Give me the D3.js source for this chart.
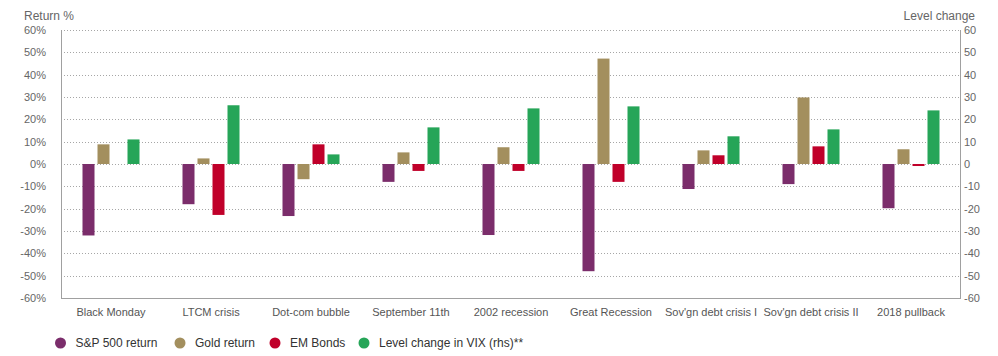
<!DOCTYPE html>
<html>
<head>
<meta charset="utf-8">
<script src="https://cdn.jsdelivr.net/npm/d3@7"></script>
<style>
  html, body { margin: 0; padding: 0; background: #fff; }
  svg { display: block; font-family: "Liberation Sans", Arial, sans-serif; }
</style>
</head>
<body>
<svg id="chart" width="998" height="356"></svg>
<script>
const categories = ["Black Monday", "LTCM crisis", "Dot-com bubble", "September 11th", "2002 recession", "Great Recession", "Sov'gn debt crisis I", "Sov'gn debt crisis II", "2018 pullback"];
const seriesNames = ["S&P 500 return", "Gold return", "EM Bonds", "Level change in VIX (rhs)**"];
const sp500 = [-32, -18, -23.3, -8, -31.8, -48, -11.2, -9, -19.8];
const gold = [8.8, 2.5, -6.8, 5.2, 7.5, 47.2, 6.1, 29.8, 6.6];
const emBonds = [null, -22.8, 8.8, -3.1, -3.1, -8, 3.9, 7.9, -0.9];
const vix = [11, 26.3, 4.3, 16.4, 24.9, 25.8, 12.4, 15.5, 24];
const leftTicks = [-60, -50, -40, -30, -20, -10, 0, 10, 20, 30, 40, 50, 60];
const rightTicks = [-60, -50, -40, -30, -20, -10, 0, 10, 20, 30, 40, 50, 60];
const colors = ["#7b2d6b", "#a38f5e", "#c0002a", "#26a558"];

(function () {
const svg = d3.select("#chart");
const pl = 61, pr = 961, pt = 30, pb = 298;

const x = d3.scaleBand().domain(categories).range([pl, pr]).padding(0);
const inner = d3.scaleBand().domain(seriesNames).range([0, 57]).paddingInner(0.2).paddingOuter(0);
const yL = d3.scaleLinear().domain([-60, 60]).range([pb, pt]);
const yR = d3.scaleLinear().domain([-60, 60]).range([pb, pt]);
const ff = "Liberation Sans, Arial, sans-serif";

// grid
svg.append("g").selectAll("line").data(leftTicks.filter(d => d !== -60)).join("line")
  .attr("x1", pl).attr("x2", pr)
  .attr("y1", d => Math.round(yL(d)) + 0.5).attr("y2", d => Math.round(yL(d)) + 0.5)
  .attr("stroke", "#a6a6a6").attr("stroke-width", 1).attr("stroke-dasharray", "1,2");

// axes lines
const axisColor = "#a0a0a0";
svg.append("line").attr("x1", pl + 0.5).attr("x2", pl + 0.5).attr("y1", pt).attr("y2", pb + 0.5).attr("stroke", axisColor);
svg.append("line").attr("x1", pr - 0.5).attr("x2", pr - 0.5).attr("y1", pt).attr("y2", pb + 0.5).attr("stroke", axisColor);
svg.append("line").attr("x1", pl).attr("x2", pr).attr("y1", pb + 0.5).attr("y2", pb + 0.5).attr("stroke", axisColor);

// left axis labels
const gL = svg.append("g").attr("transform", `translate(${pl},0)`)
  .call(d3.axisLeft(yL).tickValues(leftTicks).tickFormat(d => d + "%").tickSize(0).tickPadding(15));
gL.select(".domain").remove();
gL.selectAll("text").attr("fill", "#666").attr("font-size", 11).attr("font-family", ff);

const gR = svg.append("g").attr("transform", `translate(${pr},0)`)
  .call(d3.axisRight(yR).tickValues(rightTicks).tickFormat(d => d).tickSize(0).tickPadding(3));
gR.select(".domain").remove();
gR.selectAll("text").attr("fill", "#666").attr("font-size", 11).attr("font-family", ff);

// x labels
const gX = svg.append("g").attr("transform", `translate(0,${pb})`)
  .call(d3.axisBottom(x).tickSize(0).tickPadding(10));
gX.select(".domain").remove();
gX.selectAll("text").attr("fill", "#555").attr("font-size", 11).attr("font-family", ff);

// axis titles
svg.append("text").attr("x", 24).attr("y", 20).attr("fill", "#666").attr("font-size", 12).text("Return %");
svg.append("text").attr("x", 975).attr("y", 20).attr("text-anchor", "end").attr("fill", "#666").attr("font-size", 12).text("Level change");

// bars
const seriesData = [sp500, gold, emBonds, vix];
const groupOffset = (x.bandwidth() - 57) / 2;
seriesData.forEach((vals, si) => {
  const y = si === 3 ? yR : yL;
  svg.append("g").selectAll("rect")
    .data(categories.map((c, i) => ({ c, v: vals[i] })).filter(d => d.v !== null))
    .join("rect")
    .attr("x", d => x(d.c) + groupOffset + inner(seriesNames[si]))
    .attr("width", inner.bandwidth())
    .attr("y", d => Math.min(y(d.v), y(0)))
    .attr("height", d => Math.abs(y(d.v) - y(0)))
    .attr("fill", colors[si]);
});

// legend
const legendX = [60.5, 180, 275, 364];
const lg = svg.append("g");
seriesNames.forEach((n, i) => {
  lg.append("circle").attr("cx", legendX[i]).attr("cy", 343).attr("r", 5.5).attr("fill", colors[i]);
  lg.append("text").attr("x", legendX[i] + 15).attr("y", 347).attr("font-size", 12).attr("fill", "#333").text(n);
});
})();
</script>
</body>
</html>
